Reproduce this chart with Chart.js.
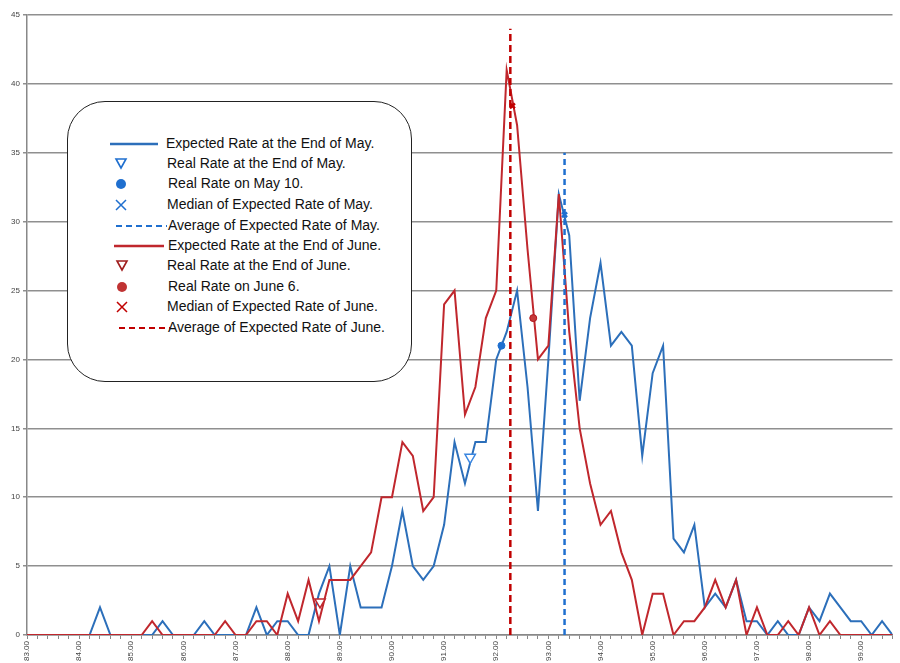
<!DOCTYPE html>
<html>
<head>
<meta charset="utf-8">
<script src="https://cdn.jsdelivr.net/npm/chart.js"></script>
<style>
  body { margin: 0; background: #fff; }
  #wrap { position: relative; width: 900px; height: 663px; }
  #legend {
    position: absolute; left: 67px; top: 101px; width: 343px; height: 279px;
    border: 1.5px solid #222; border-radius: 38px; background: #fff;
    font-family: "Liberation Sans", Arial, sans-serif; font-size: 14px; color: #111;
  }
  #legend .row { position: absolute; left: 0; height: 20px; width: 100%; }
  #legend svg { position: absolute; left: 18px; top: 0; }
  #legend span { position: absolute; left: 98px; top: 1px; white-space: nowrap; }
</style>
</head>
<body>
<div id="wrap">
  <canvas id="grafico" width="900" height="663"></canvas>
  <div id="legend"></div>
</div>
<script>
// taxas (eixo x)
const taxas = [83.0, 83.2, 83.4, 83.6, 83.8, 84.0, 84.2, 84.4, 84.6, 84.8,
  85.0, 85.2, 85.4, 85.6, 85.8, 86.0, 86.2, 86.4, 86.6, 86.8,
  87.0, 87.2, 87.4, 87.6, 87.8, 88.0, 88.2, 88.4, 88.6, 88.8,
  89.0, 89.2, 89.4, 89.6, 89.8, 90.0, 90.2, 90.4, 90.6, 90.8,
  91.0, 91.2, 91.4, 91.6, 91.8, 92.0, 92.2, 92.4, 92.6, 92.8,
  93.0, 93.2, 93.4, 93.6, 93.8, 94.0, 94.2, 94.4, 94.6, 94.8,
  95.0, 95.2, 95.4, 95.6, 95.8, 96.0, 96.2, 96.4, 96.6, 96.8,
  97.0, 97.2, 97.4, 97.6, 97.8, 98.0, 98.2, 98.4, 98.6, 98.8,
  99.0, 99.2, 99.4, 99.6];

// Expected Rate at the End of May
const esperadoMaio = [0, 0, 0, 0, 0, 0, 0, 2, 0, 0,
  0, 0, 0, 1, 0, 0, 0, 1, 0, 0,
  0, 0, 2, 0, 1, 1, 0, 0, 3, 5,
  0, 5, 2, 2, 2, 5, 9, 5, 4, 5,
  8, 14, 11, 14, 14, 20, 22, 25, 18, 9,
  20, 32, 29, 17, 23, 27, 21, 22, 21, 13,
  19, 21, 7, 6, 8, 2, 3, 2, 4, 1,
  1, 0, 1, 0, 0, 2, 1, 3, 2, 1,
  1, 0, 1, 0];

// Expected Rate at the End of June
const esperadoJunho = [0, 0, 0, 0, 0, 0, 0, 0, 0, 0,
  0, 0, 1, 0, 0, 0, 0, 0, 0, 1,
  0, 0, 1, 1, 0, 3, 1, 4, 1, 4,
  4, 4, 5, 6, 10, 10, 14, 13, 9, 10,
  24, 25, 16, 18, 23, 25, 41, 37, 28, 20,
  21, 32, 22, 15, 11, 8, 9, 6, 4, 0,
  3, 3, 0, 1, 1, 2, 4, 2, 4, 0,
  2, 0, 0, 1, 0, 2, 0, 1, 0, 0,
  0, 0, 0, 0];

// marcadores [taxa, valor]
const realFimMaio = [91.5, 12.9];
const real10Maio = [92.1, 21.0];
const medianaMaio = [93.31, 30.5];
const mediaMaio = [93.31, 35];
const realFimJunho = [88.62, 2.4];
const real6Junho = [92.71, 23.0];
const medianaJunho = [92.31, 38.4];
const mediaJunho = [92.27, 44];

const eixoY = [0, 45, 5];

const azul = '#2c6fba';
const azulTraco = '#1f6fcf';
const vermelho = '#c0272d';
const vermelhoTraco = '#c00000';

function pontos(xs, ys) {
    return xs.map((x, i) => ({ x: x, y: ys[i] }));
}
function marcador(p) {
    return [{ x: p[0], y: p[1] }];
}
function vertical(p) {
    return [{ x: p[0], y: 0 }, { x: p[0], y: p[1] }];
}

const ctx = document.getElementById('grafico').getContext('2d');
new Chart(ctx, {
    type: 'line',
    data: {
        datasets: [
            { label: 'Expected Rate at the End of May.', data: pontos(taxas, esperadoMaio),
              borderColor: azul, borderWidth: 2, pointRadius: 0, tension: 0, order: 6 },
            { label: 'Expected Rate at the End of June.', data: pontos(taxas, esperadoJunho),
              borderColor: vermelho, borderWidth: 2, pointRadius: 0, tension: 0, order: 5 },
            { label: 'Average of Expected Rate of May.', data: vertical(mediaMaio),
              borderColor: azulTraco, borderWidth: 2.5, borderDash: [6, 4], pointRadius: 0, order: 4 },
            { label: 'Average of Expected Rate of June.', data: vertical(mediaJunho),
              borderColor: vermelhoTraco, borderWidth: 2.5, borderDash: [7, 4], pointRadius: 0, order: 3 },
            { label: 'Real Rate at the End of May.', data: marcador(realFimMaio), showLine: false,
              pointStyle: 'triangle', rotation: 180, pointRadius: 6, borderColor: '#3a86e0',
              backgroundColor: '#fff', pointBorderWidth: 1.5, order: 2 },
            { label: 'Real Rate on May 10.', data: marcador(real10Maio), showLine: false,
              pointStyle: 'circle', pointRadius: 3.5, borderColor: '#1f6fcf', backgroundColor: '#1f6fcf', order: 2 },
            { label: 'Median of Expected Rate of May.', data: marcador(medianaMaio), showLine: false,
              pointStyle: 'crossRot', pointRadius: 3.5, borderColor: '#1f6fcf', pointBorderWidth: 2.5, order: 1 },
            { label: 'Real Rate at the End of June.', data: marcador(realFimJunho), showLine: false,
              pointStyle: 'triangle', rotation: 180, pointRadius: 6, borderColor: vermelho,
              backgroundColor: '#fff', pointBorderWidth: 1.5, order: 2 },
            { label: 'Real Rate on June 6.', data: marcador(real6Junho), showLine: false,
              pointStyle: 'circle', pointRadius: 3.5, borderColor: '#b0151c', backgroundColor: '#c53a3a', order: 2 },
            { label: 'Median of Expected Rate of June.', data: marcador(medianaJunho), showLine: false,
              pointStyle: 'crossRot', pointRadius: 3.5, borderColor: vermelhoTraco, pointBorderWidth: 2.5, order: 1 }
        ]
    },
    options: {
        responsive: false,
        animation: false,
        layout: { padding: { top: 15, right: 0, left: 0, bottom: 0 } },
        plugins: { legend: { display: false }, tooltip: { enabled: false } },
        scales: {
            x: {
                type: 'linear', min: taxas[0], max: taxas[taxas.length - 1],
                ticks: {
                    stepSize: 0.2, autoSkip: false, minRotation: 90, maxRotation: 90,
                    font: { size: 8, family: 'Liberation Sans' }, color: '#444', padding: 2,
                    callback: function (v) {
                        return Math.abs(v - Math.round(v)) < 1e-6 ? Number(v).toFixed(2) : '';
                    }
                },
                grid: { drawOnChartArea: false, tickLength: 4, color: '#888' },
                border: { color: '#888', width: 1.5 },
                afterFit: function (s) { s.height = 28; s.paddingLeft = 0; s.paddingRight = 0; }
            },
            y: {
                min: eixoY[0], max: eixoY[1],
                ticks: { stepSize: eixoY[2], font: { size: 8, family: 'Liberation Sans' }, color: '#444', padding: 3 },
                grid: { color: '#8f8f8f', lineWidth: 1.5, tickLength: 4 },
                border: { color: '#888', width: 1.5 },
                afterFit: function (s) { s.width = 27; }
            }
        }
    }
});

// Legenda
const itensLegenda = [
    { texto: 'Expected Rate at the End of May.', tipo: 'linha', cor: azul, x1: 24, x2: 72, dx: 0 },
    { texto: 'Real Rate at the End of May.', tipo: 'triangulo', cor: '#1f6fcf', cx: 35, dx: 1 },
    { texto: 'Real Rate on May 10.', tipo: 'circulo', cor: '#1f6fcf', cx: 35, dx: 2 },
    { texto: 'Median of Expected Rate of May.', tipo: 'xis', cor: '#1f6fcf', cx: 35, dx: 1 },
    { texto: 'Average of Expected Rate of May.', tipo: 'tracejado', cor: azulTraco, x1: 30, x2: 81, dx: 2 },
    { texto: 'Expected Rate at the End of June.', tipo: 'linha', cor: vermelho, x1: 28, x2: 78, dx: 2 },
    { texto: 'Real Rate at the End of June.', tipo: 'triangulo', cor: '#a01e1e', cx: 36, dx: 1 },
    { texto: 'Real Rate on June 6.', tipo: 'circulo', cor: '#c03333', cx: 36, dx: 2 },
    { texto: 'Median of Expected Rate of June.', tipo: 'xis', cor: vermelhoTraco, cx: 36, dx: 1 },
    { texto: 'Average of Expected Rate of June.', tipo: 'tracejado', cor: vermelhoTraco, x1: 33, x2: 84, dx: 2 }
];
const topos = [32, 52, 72, 93, 114, 134, 154, 175, 195, 216];
const legenda = document.getElementById('legend');
itensLegenda.forEach(function (item, i) {
    let forma = '';
    if (item.tipo === 'linha') {
        forma = `<line x1="${item.x1}" y1="10" x2="${item.x2}" y2="10" stroke="${item.cor}" stroke-width="2.5"/>`;
    } else if (item.tipo === 'tracejado') {
        forma = `<line x1="${item.x1}" y1="10" x2="${item.x2}" y2="10" stroke="${item.cor}" stroke-width="2" stroke-dasharray="6,4"/>`;
    } else if (item.tipo === 'triangulo') {
        forma = `<polygon points="${item.cx - 5},5 ${item.cx + 5},5 ${item.cx},14" fill="none" stroke="${item.cor}" stroke-width="1.6"/>`;
    } else if (item.tipo === 'circulo') {
        forma = `<circle cx="${item.cx}" cy="10" r="5" fill="${item.cor}"/>`;
    } else {
        forma = `<path d="M${item.cx - 5} 5 L${item.cx + 5} 15 M${item.cx + 5} 5 L${item.cx - 5} 15" stroke="${item.cor}" stroke-width="1.5"/>`;
    }
    const row = document.createElement('div');
    row.className = 'row';
    row.style.top = topos[i] + 'px';
    row.innerHTML = `<svg width="100" height="20">${forma}</svg><span style="left:${98 + item.dx}px">${item.texto}</span>`;
    legenda.appendChild(row);
});
</script>
</body>
</html>
